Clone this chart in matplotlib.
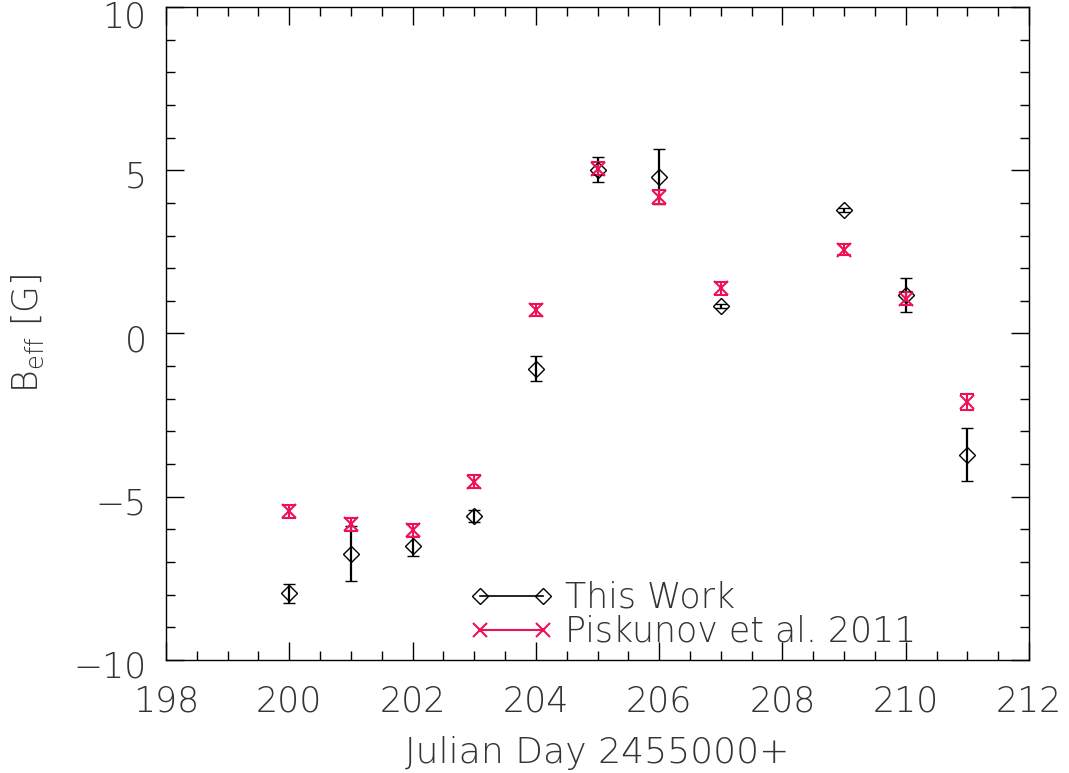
import matplotlib
matplotlib.use('Agg')
import matplotlib.pyplot as plt
from matplotlib.lines import Line2D
from matplotlib.ticker import MultipleLocator
from matplotlib.transforms import ScaledTranslation

# Julian day offsets (2455000+)
jd = [200, 201, 202, 203, 204, 205, 206, 207, 209, 210, 211]

# effective field, this work
b_this = [-7.96, -6.74, -6.51, -5.60, -1.08, 5.02, 4.80, 0.84, 3.78, 1.19, -3.71]
e_this = [0.29, 0.85, 0.31, 0.18, 0.38, 0.37, 0.84, 0.05, 0.06, 0.52, 0.82]

# Piskunov et al. 2011
b_pisk = [-5.44, -5.85, -6.03, -4.54, 0.71, 5.04, 4.18, 1.38, 2.57, 1.07, -2.09]
e_pisk = [0.20, 0.20, 0.20, 0.20, 0.18, 0.20, 0.20, 0.20, 0.18, 0.20, 0.24]

ytick_vals = [-10, -5, 0, 5, 10]
ytick_text = ['\u221210', '\u22125', '0', '5', '10']

red = '#ee1155'
txt = '#333333'
fs = 25

plt.rcParams['font.family'] = ['DejaVu Sans']
plt.rcParams['font.weight'] = 'light'
plt.rcParams['axes.labelweight'] = 'light'
fig = plt.figure(figsize=(10.69, 7.73), dpi=100)
ax = fig.add_axes([0.1553, 0.1462, 0.8073, 0.8448])

ax.errorbar(jd, b_this, yerr=e_this, fmt='D', ms=8, mfc='none', mec='black',
            mew=1.0, ecolor='black', elinewidth=1.6, capsize=4, capthick=1.6)
ax.errorbar(jd, b_pisk, yerr=e_pisk, fmt='x', ms=10, mec=red, mew=1.5,
            ecolor=red, elinewidth=1.5, capsize=4.7, capthick=1.5)

ax.set_xlim(198, 212)
ax.set_ylim(-10, 10)
ax.xaxis.set_major_locator(MultipleLocator(2))
ax.xaxis.set_minor_locator(MultipleLocator(0.5))
ax.yaxis.set_minor_locator(MultipleLocator(1))
ax.tick_params(which='both', direction='in', top=True, right=True, width=1.0,
               labelsize=fs, labelcolor=txt)
ax.tick_params(which='major', length=13)
ax.tick_params(axis='x', which='major', pad=18)
ax.tick_params(axis='y', which='major', pad=14)
ax.tick_params(which='minor', length=6.5)
ax.set_yticks(ytick_vals)
ax.set_yticklabels(ytick_text)
# labels sit a little below their ticks; the top one is kept inside the figure
for lab in ax.get_yticklabels():
    lab.set_transform(lab.get_transform() + ScaledTranslation(0, -3 / 72, fig.dpi_scale_trans))
ax.get_yticklabels()[-1].set_va('top')
ax.get_yticklabels()[-1].set_transform(ax.get_yticklabels()[-1].get_transform()
                                       + ScaledTranslation(0, 8 / 72, fig.dpi_scale_trans))
for s in ax.spines.values():
    s.set_linewidth(1.0)

ax.set_xlabel('Julian Day 2455000+', fontsize=26, color=txt, labelpad=12,
              fontweight='light')
ax.set_ylabel('B$_{\\mathregular{eff}}$ [G]', fontsize=fs, color=txt, labelpad=20,
              fontweight='light')

handles = [
    Line2D([], [], color='black', lw=1.2, marker='D', ms=8, mfc='none', mew=1.0),
    Line2D([], [], color=red, lw=1.5, marker='x', ms=10, mew=1.5),
]
ax.legend(handles, ['This Work', 'Piskunov et al. 2011'], loc='lower left',
          bbox_to_anchor=(0.33, -0.012), borderaxespad=0.15, frameon=False,
          numpoints=2, handlelength=2.4, handletextpad=0.35, labelspacing=0.0,
          prop={'size': fs, 'weight': 'light'}, labelcolor=txt)

fig.savefig('out.png', dpi=100)
